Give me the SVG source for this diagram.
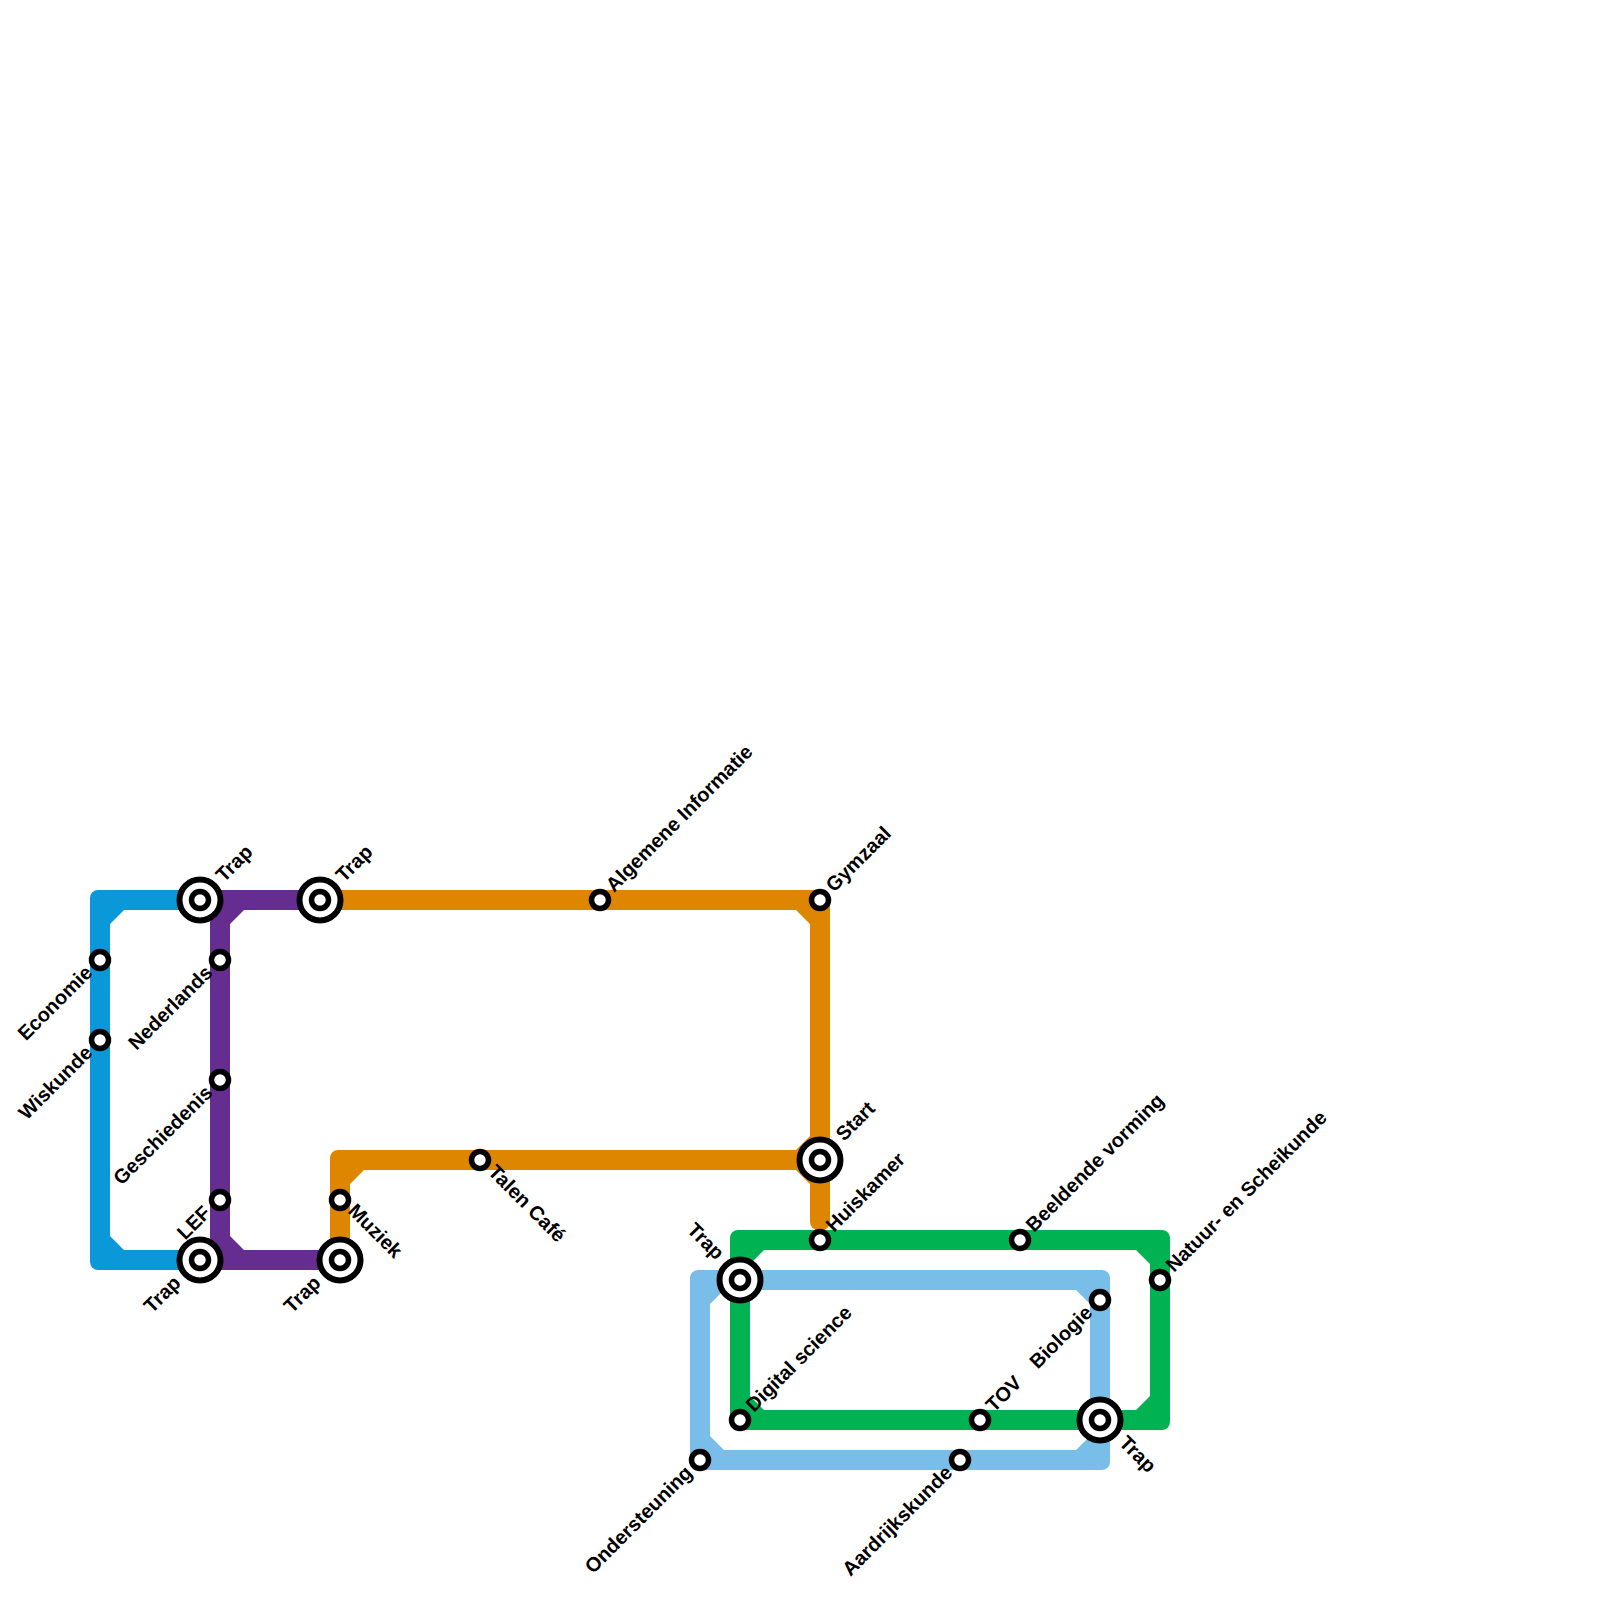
<svg xmlns="http://www.w3.org/2000/svg" width="1600" height="1600" viewBox="0 0 1600 1600">
<style>
.s{fill:#fff;stroke:#000;stroke-width:5.5}
.o{fill:#fff;stroke:#000;stroke-width:6}
text{font-family:"Liberation Sans",Arial,sans-serif;font-weight:700;font-size:20px;fill:#000}
.e{text-anchor:end}
</style>
<rect width="1600" height="1600" fill="#fff"/>
<g id="connectors">
<path fill="#0b98d8" d="M200 890H98A8 8 0 0 0 90 898V1262A8 8 0 0 0 98 1270H200V1250H124L110 1236V924L124 910H200Z"/>
<path fill="#662d91" d="M200 890H320V910H244L230 924V1236L244 1250H340V1270H200V1250H210V910H200Z"/>
<path fill="#df8600" d="M320 890H822A8 8 0 0 1 830 898V1222A8 8 0 0 1 822 1230H818A8 8 0 0 1 810 1222V1184L796 1170H350V1260H330V1158A8 8 0 0 1 338 1150H796L810 1136V924L796 910H320ZM364 1170L350 1184V1170Z"/>
<path fill="#79bde9" fill-rule="evenodd" d="M698 1270H1102A8 8 0 0 1 1110 1278V1462A8 8 0 0 1 1102 1470H698A8 8 0 0 1 690 1462V1278A8 8 0 0 1 698 1270ZM724 1290L710 1304V1436L724 1450H1076L1090 1436V1304L1076 1290Z"/>
<path fill="#00b251" fill-rule="evenodd" d="M738 1230H1162A8 8 0 0 1 1170 1238V1422A8 8 0 0 1 1162 1430H738A8 8 0 0 1 730 1422V1238A8 8 0 0 1 738 1230ZM764 1250L750 1264V1396L764 1410H1136L1150 1396V1264L1136 1250Z"/>
</g>
<g id="n-trap-1"><circle class="o" cx="200" cy="900" r="20.5"/><circle class="s" cx="200" cy="900" r="8.5"/><text transform="translate(224 883) rotate(-45)">Trap</text></g>
<g id="n-trap-2"><circle class="o" cx="320" cy="900" r="20.5"/><circle class="s" cx="320" cy="900" r="8.5"/><text transform="translate(344 883) rotate(-45)">Trap</text></g>
<g id="n-economie"><circle class="s" cx="100" cy="960" r="8.5"/><text class="e" transform="translate(93.500 974) rotate(-45)">Economie</text></g>
<g id="n-wiskunde"><circle class="s" cx="100" cy="1040" r="8.5"/><text class="e" transform="translate(93.500 1054) rotate(-45)">Wiskunde</text></g>
<g id="n-nederlands"><circle class="s" cx="220" cy="960" r="8.5"/><text class="e" transform="translate(213.500 974) rotate(-45)">Nederlands</text></g>
<g id="n-geschiedenis"><circle class="s" cx="220" cy="1080" r="8.5"/><text class="e" transform="translate(213.500 1094) rotate(-45)">Geschiedenis</text></g>
<g id="n-lef"><circle class="s" cx="220" cy="1200" r="8.5"/><text class="e" transform="translate(212 1214) rotate(-45)">LEF</text></g>
<g id="n-trap-3"><circle class="o" cx="200" cy="1260" r="20.5"/><circle class="s" cx="200" cy="1260" r="8.5"/><text class="e" transform="translate(182 1284) rotate(-45)">Trap</text></g>
<g id="n-muziek"><circle class="s" cx="340" cy="1200" r="8.5"/><text transform="translate(347 1212) rotate(45)">Muziek</text></g>
<g id="n-trap-4"><circle class="o" cx="340" cy="1260" r="20.5"/><circle class="s" cx="340" cy="1260" r="8.5"/><text class="e" transform="translate(322 1284) rotate(-45)">Trap</text></g>
<g id="n-talen"><circle class="s" cx="480" cy="1160" r="8.5"/><text transform="translate(487 1173) rotate(45)">Talen Café</text></g>
<g id="n-algemene"><circle class="s" cx="600" cy="900" r="8.5"/><text transform="translate(614 893) rotate(-45)">Algemene Informatie</text></g>
<g id="n-gymzaal"><circle class="s" cx="820" cy="900" r="8.5"/><text transform="translate(834 893) rotate(-45)">Gymzaal</text></g>
<g id="n-start"><circle class="o" cx="820" cy="1160" r="20.5"/><circle class="s" cx="820" cy="1160" r="8.5"/><text transform="translate(844 1142) rotate(-45)">Start</text></g>
<g id="n-huiskamer"><circle class="s" cx="820" cy="1240" r="8.5"/><text transform="translate(834 1233) rotate(-45)">Huiskamer</text></g>
<g id="n-trap-5"><circle class="o" cx="740" cy="1280" r="20.5"/><circle class="s" cx="740" cy="1280" r="8.5"/><text class="e" transform="translate(716 1261) rotate(45)">Trap</text></g>
<g id="n-digital"><circle class="s" cx="740" cy="1420" r="8.5"/><text transform="translate(754 1413) rotate(-45)">Digital science</text></g>
<g id="n-tov"><circle class="s" cx="980" cy="1420" r="8.5"/><text transform="translate(994 1413) rotate(-45)">TOV</text></g>
<g id="n-beeldende"><circle class="s" cx="1020" cy="1240" r="8.5"/><text transform="translate(1034 1233) rotate(-45)">Beeldende vorming</text></g>
<g id="n-natuur"><circle class="s" cx="1160" cy="1280" r="8.5"/><text transform="translate(1174 1273) rotate(-45)">Natuur- en Scheikunde</text></g>
<g id="n-biologie"><circle class="s" cx="1100" cy="1300" r="8.5"/><text class="e" transform="translate(1093.500 1314) rotate(-45)">Biologie</text></g>
<g id="n-trap-6"><circle class="o" cx="1100" cy="1420" r="20.5"/><circle class="s" cx="1100" cy="1420" r="8.5"/><text transform="translate(1118 1444) rotate(45)">Trap</text></g>
<g id="n-ondersteuning"><circle class="s" cx="700" cy="1460" r="8.5"/><text class="e" transform="translate(693.500 1474) rotate(-45)">Ondersteuning</text></g>
<g id="n-aardrijkskunde"><circle class="s" cx="960" cy="1460" r="8.5"/><text class="e" transform="translate(953.500 1474) rotate(-45)">Aardrijkskunde</text></g>
</svg>
